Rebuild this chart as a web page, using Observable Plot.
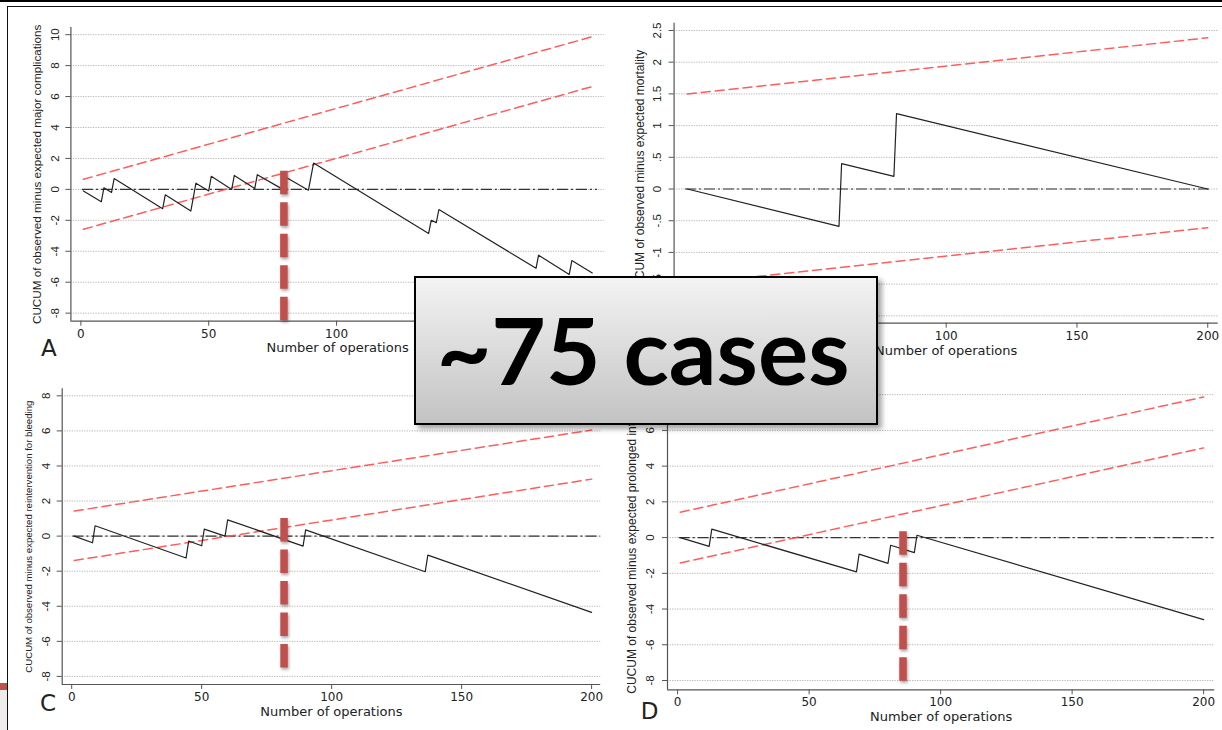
<!DOCTYPE html>
<html><head><meta charset="utf-8">
<script src="https://cdn.jsdelivr.net/npm/d3@7"></script>
<script src="https://cdn.jsdelivr.net/npm/@observablehq/plot@0.6"></script>
<style>
html,body{margin:0;padding:0;background:#fff;}
#stage{position:relative;width:1222px;height:730px;overflow:hidden;background:#fff;}
#stage svg.panel{position:absolute;left:0;top:0;}
.topbar{position:absolute;left:0;top:0;width:1222px;height:2.2px;background:#000;}
.topline{position:absolute;left:6.7px;top:5.7px;width:1216px;height:1.6px;background:#111;}
.leftline{position:absolute;left:6.7px;top:5.7px;width:1.6px;height:725px;background:#111;}
.strip{position:absolute;left:0;top:683px;width:6.7px;height:47px;background:#eeebeb;}
.stripred{position:absolute;left:0;top:683.3px;width:6.7px;height:6.7px;background:#c0504d;}
#box{position:absolute;left:414px;top:276px;width:460px;height:145px;border:2px solid #000;
  background:linear-gradient(#f3f3f3,#c3c3c3);box-shadow:4px 4px 5px rgba(0,0,0,0.35);}
#box svg{position:absolute;left:0;top:0;}
</style></head>
<body><div id="stage">
<div class="topbar"></div><div class="topline"></div><div class="leftline"></div>
<div class="strip"></div><div class="stripred"></div>
</div>
<script>
// ---------------- data ----------------
const xTicks = [0, 50, 100, 150, 200];
const limitX = [1, 200];

// Panel A: major complications
const aX = [1, 8, 9, 12, 13, 32, 33, 43, 45, 50, 51, 59, 60, 68, 69, 79, 80, 89, 91, 136, 137, 139, 140, 178, 179, 191, 192, 200];
const aY = [-0.1, -0.8, 0.1, -0.2, 0.7, -1.25, -0.35, -1.4, 0.4, -0.1, 0.85, 0, 0.9, 0.05, 0.95, 0, 0.8, -0.05, 1.7, -2.85, -2.0, -2.15, -1.3, -5.1, -4.25, -5.5, -4.6, -5.4];
const aUpper = [0.65, 9.87];
const aLower = [-2.58, 6.65];
const aTicks = [-8, -6, -4, -2, 0, 2, 4, 6, 8, 10];
const aZero = [0.6, 202];
const aBar = [79.4, 1.18, -8.52];
const aLabel = "CUCUM of observed minus expected major complications";

// Panel B: mortality
const bX = [1, 59, 60, 80, 81, 200];
const bY = [0, -0.59, 0.4, 0.2, 1.19, 0];
const bUpper = [1.5, 2.385];
const bLower = [-1.5, -0.61];
const bTicks = [-2, -1.5, -1, -0.5, 0, 0.5, 1, 1.5, 2, 2.5];
const bZero = [0.3, 200.7];
const bLabel = "CUCUM of observed minus expected mortality";

// Panel C: reintervention for bleeding
const cX = [1, 8, 9, 44, 45, 50, 51, 59, 60, 89, 90, 136, 137, 200];
const cY = [0, -0.38, 0.59, -1.25, -0.28, -0.55, 0.4, 0, 0.93, -0.57, 0.36, -2.03, -1.08, -4.35];
const cUpper = [1.43, 6.05];
const cLower = [-1.39, 3.25];
const cTicks = [-8, -6, -4, -2, 0, 2, 4, 6, 8];
const cZero = [0.5, 203.5];
const cBar = [81.7, 1.0, -7.6];
const cLabel = "CUCUM of observed minus expected reintervention for bleeding";

// Panel D: prolonged intubation
const dX = [1, 12, 13, 68, 69, 80, 81, 90, 91, 200];
const dY = [0, -0.49, 0.47, -1.92, -0.93, -1.44, -0.43, -0.84, 0.13, -4.59];
const dUpper = [1.42, 7.87];
const dLower = [-1.42, 5.02];
const dTicks = [-8, -6, -4, -2, 0, 2, 4, 6, 8];
const dZero = [0.6, 204];
const dBar = [85.7, 0.32, -8.17];
const dLabel = "CUCUM of observed minus expected prolonged intubation";

const boxText = "~75 cases";
const xTitle = "Number of operations";

// ---------------- layout ----------------
const W = 1222, H = 730;
const stata = d => d === 0 ? "0" : (d < 0 ? "-" : "") + String(Math.abs(d)).replace(/^0\./, ".");

const panels = [
  {letter: "A", X: aX, Y: aY, up: aUpper, lo: aLower, ticks: aTicks, zero: aZero, bar: aBar, label: aLabel,
   frame: {left: 70.4, right: 603.8, top: 26.9, bottom: 320.7}, xDomain: [-3.9, 204.7], yDomain: [-8.52, 10.47],
   tickDx: -16, labelDx: -34, labelSize: 11.7, titleDy: 26.3, letterDx: -22, letterDy: 27.3},
  {letter: null, X: bX, Y: bY, up: bUpper, lo: bLower, ticks: bTicks, zero: bZero, bar: null, label: bLabel,
   frame: {left: 673.6, right: 1217.7, top: 22.7, bottom: 322.7}, xDomain: [-4.05, 204], yDomain: [-2.116, 2.615],
   tickDx: -16.8, labelDx: -34.3, labelSize: 12, titleDy: 28},
  {letter: "C", X: cX, Y: cY, up: cUpper, lo: cLower, ticks: cTicks, zero: cZero, bar: cBar, label: cLabel,
   frame: {left: 61.7, right: 600.2, top: 388.3, bottom: 684}, xDomain: [-3.65, 203.5], yDomain: [-8.46, 8.4],
   tickDx: -16.2, labelDx: -32.8, labelSize: 9.6, titleDy: 27.7, letterDx: -14.2, letterDy: 19.5},
  {letter: "D", X: dX, Y: dY, up: dUpper, lo: dLower, ticks: dTicks, zero: dZero, bar: dBar, label: dLabel,
   frame: {left: 667, right: 1214.2, top: 387, bottom: 689.3}, xDomain: [-3.84, 204.2], yDomain: [-8.52, 8.4],
   tickDx: -17.4, labelDx: -35.2, labelSize: 12, titleDy: 27.4, letterDx: -18, letterDy: 22.2}
];

const stage = document.getElementById("stage");
for (const p of panels) {
  const marks = [
    Plot.gridY({ticks: p.ticks, stroke: "#b8b8b8", strokeOpacity: 1, strokeWidth: 1, strokeDasharray: "1.3,1.2"}),
    Plot.ruleY([0], {y: d => d, x1: [p.zero[0]], x2: [p.zero[1]], stroke: "#333", strokeWidth: 1.1, strokeDasharray: "11,3,2,3"}),
    Plot.lineY(p.up, {x: limitX, stroke: "#ff4a4a", strokeWidth: 1.5, strokeDasharray: "9,5", strokeOpacity: 0.9}),
    Plot.lineY(p.lo, {x: limitX, stroke: "#ff4a4a", strokeWidth: 1.5, strokeDasharray: "9,5", strokeOpacity: 0.9}),
    Plot.lineY(p.Y, {x: p.X, stroke: "#222", strokeWidth: 1.2}),
    Plot.ruleX([p.xDomain[0]], {stroke: "#555", strokeWidth: 1.2}),
    Plot.ruleY([p.yDomain[0]], {stroke: "#555", strokeWidth: 1.2}),
    Plot.axisY({ticks: p.ticks, tickSize: 5, tickFormat: () => "", label: null, stroke: "#555"}),
    Plot.axisX({ticks: xTicks, tickSize: 5, tickPadding: 3, fontSize: 12, label: null, stroke: "#555"}),
    Plot.text(p.ticks, {y: d => d, text: stata, frameAnchor: "left", dx: p.tickDx, rotate: -90,
      fontSize: 11.5, fontFamily: "'Liberation Sans', Arial, sans-serif", textAnchor: "middle", lineAnchor: "middle"}),
    Plot.text([p.label], {text: d => d, frameAnchor: "left", dx: p.labelDx, rotate: -90, fontSize: p.labelSize,
      fontFamily: "'Liberation Sans', Arial, sans-serif", textAnchor: "middle", lineAnchor: "middle"}),
    Plot.text([xTitle], {text: d => d, frameAnchor: "bottom", dy: p.titleDy, fontSize: 13, textAnchor: "middle", lineAnchor: "middle"})
  ];
  if (p.letter) marks.push(Plot.text([p.letter], {text: d => d, frameAnchor: "bottom-left", dx: p.letterDx, dy: p.letterDy,
    fontSize: 23, textAnchor: "middle", lineAnchor: "middle"}));
  if (p.bar) marks.push(Plot.ruleX([p.bar[0]], {y1: [p.bar[1]], y2: [p.bar[2]], stroke: "#c0504d", strokeWidth: 7.5, strokeDasharray: "23.5,8"}));
  const svg = Plot.plot({
    width: W, height: H,
    marginLeft: p.frame.left, marginRight: W - p.frame.right,
    marginTop: p.frame.top, marginBottom: H - p.frame.bottom,
    x: {domain: p.xDomain},
    y: {domain: p.yDomain},
    style: {background: "transparent", color: "#222", fontFamily: "'DejaVu Sans', sans-serif", overflow: "visible"},
    marks
  });
  svg.classList.add("panel");
  d3.select(svg).selectAll("g").filter(function() { return this.getAttribute("stroke") === "#c0504d"; })
    .style("filter", "drop-shadow(1px 2px 1.5px rgba(0,0,0,0.35))");
  stage.appendChild(svg);
}

// overlay box
const box = document.createElement("div");
box.id = "box";
stage.appendChild(box);
d3.select(box).append("svg").attr("width", 460).attr("height", 145)
  .append("text").attr("x", 20.7).attr("y", 107)
  .attr("textLength", 413).attr("lengthAdjust", "spacingAndGlyphs")
  .attr("font-family", "Lato, 'Open Sans', sans-serif").attr("font-weight", 700).attr("font-size", 92)
  .attr("fill", "#000").text(boxText);
</script>
</body></html>
